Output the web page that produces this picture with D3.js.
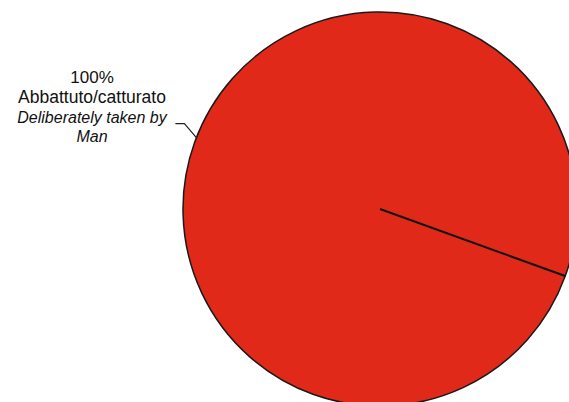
<!DOCTYPE html>
<html>
<head>
<meta charset="utf-8">
<script src="https://cdn.jsdelivr.net/npm/d3@7"></script>
<style>
  html, body { margin: 0; padding: 0; background: #fff; }
  svg { display: block; }
</style>
</head>
<body>
<svg id="chart" width="569" height="402"></svg>
<script>
// Cause of death shares
const categories = ["Abbattuto/catturato"];
const categoriesEn = ["Deliberately taken by Man"];
const values = [100];
const colors = ["#e1291a"];

const width = 569, height = 402;
const cx = 380, cy = 209, radius = 197;
const startAngle = 1.918; // first slice starts east-south-east

const svg = d3.select("#chart");
const g = svg.append("g").attr("transform", `translate(${cx},${cy})`);

const pie = d3.pie().sort(null).value(d => d)
  .startAngle(startAngle).endAngle(startAngle + 2 * Math.PI);
const arcs = pie(values);
const arc = d3.arc().innerRadius(0).outerRadius(radius);

g.selectAll("path.slice")
  .data(arcs)
  .enter().append("path")
  .attr("class", "slice")
  .attr("d", arc)
  .attr("fill", (d, i) => colors[i])
  .attr("stroke", "#1a1a1a")
  .attr("stroke-width", 1.5);

// Slice boundary radii (a full circle arc draws none)
g.selectAll("line.edge")
  .data(arcs)
  .enter().append("line")
  .attr("class", "edge")
  .attr("x1", 0).attr("y1", 0)
  .attr("x2", d => d3.pointRadial(d.startAngle, radius)[0])
  .attr("y2", d => d3.pointRadial(d.startAngle, radius)[1])
  .attr("stroke", "#111")
  .attr("stroke-width", 2);

// Label with leader line
const fmt = v => d3.format(".0f")(v) + "%";
const labelAngle = 2 * Math.PI - 1.2;
const tip = d3.pointRadial(labelAngle, radius);
const elbow = [tip[0] - 12, tip[1] - 14];
const end = [elbow[0] - 9, elbow[1]];

g.append("polyline")
  .attr("points", [tip, elbow, end].map(p => p.join(",")).join(" "))
  .attr("fill", "none")
  .attr("stroke", "#222")
  .attr("stroke-width", 1.2);

const labelX = 92 - cx;
const label = g.append("text")
  .attr("text-anchor", "middle")
  .attr("font-family", "Liberation Sans, Arial, Helvetica, sans-serif")
  .attr("fill", "#111");

label.append("tspan").attr("x", labelX).attr("y", 82.5 - cy)
  .attr("font-size", 17).text(fmt(values[0]));
label.append("tspan").attr("x", labelX).attr("y", 102.5 - cy)
  .attr("font-size", 17.5).text(categories[0]);
label.append("tspan").attr("x", labelX).attr("y", 122.5 - cy)
  .attr("font-size", 16).attr("font-style", "italic").text("Deliberately taken by");
label.append("tspan").attr("x", labelX).attr("y", 141.5 - cy)
  .attr("font-size", 16).attr("font-style", "italic").text("Man");
</script>
</body>
</html>
